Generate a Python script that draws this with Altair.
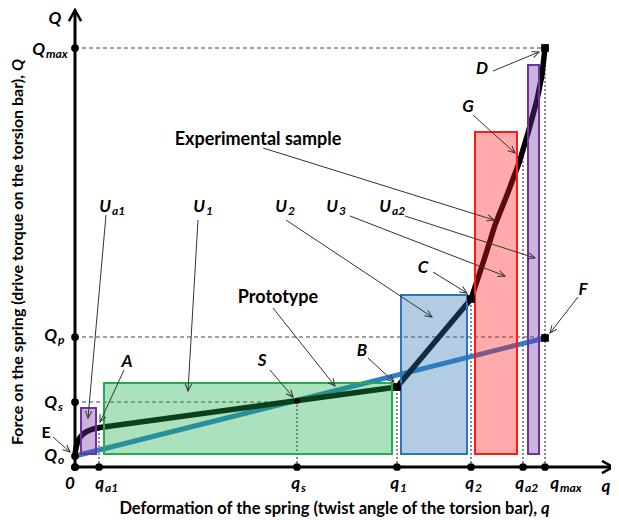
import math
import altair as alt
import pandas as pd

# ---------------- data (diagram units, axes cross at 0,0) ----------------
# experimental sample characteristic (black)
exp_q = [0, 0.5, 1, 2, 3.5, 5, 7.5, 10, 14, 18, 25, 322, 396, 409, 420, 432, 444, 453, 462, 467, 470]
exp_Q = [11, 16, 19, 23, 27, 29.5, 32.5, 34.5, 36.5, 38, 39.5, 80, 168, 207, 242, 272, 304, 334, 367, 392, 419]
# prototype characteristic (blue)
proto_q = [0, 470]
proto_Q = [11, 129]

# energy rectangles
rect_name = ["Ua1", "U1", "U2", "U3", "Ua2"]
rect_q1 = [6, 29, 326, 400, 453]
rect_q2 = [21, 317, 392, 442, 464]
rect_Q1 = [13, 13, 13, 13, 13]
rect_Q2 = [59, 84, 172, 335, 402]
rect_colors = ["#7030a0", "#1fae4b", "#2e75b6", "#ff1a1a", "#7030a0"]

# axis tick dots
q_ticks = [0, 24, 222, 322, 396, 448, 470]
Q_ticks = [0, 11, 65, 130, 419]
q_axis_end = 538
Q_axis_end = 457

# dashed guide lines
hguide_Q = [419, 130, 65]
hguide_end = [470, 470, 222]
vguide_q = [24, 222, 322, 396, 448, 470]
vguide_end = [40, 66, 80, 168, 318, 419]

# characteristic points
pt_q = [322, 396, 470, 470]
pt_Q = [80, 168, 419, 129]
s_q = [222]
s_Q = [66]

# annotation arrows (start -> tip)
arr_q = [-22, 31, 123, 211, 275, 330, 188, 398, 418, 503, 358, 293, 195, 198, 49]
arr_Q = [30, 252, 247, 247, 251, 251, 319, 352, 396, 170, 195, 109, 97, 159, 97]
arr_q2 = [-5, 13, 113, 357, 430, 460, 419, 440, 464, 475, 392, 319, 218, 260, 25]
arr_Q2 = [15, 49, 76, 150, 191, 209, 247, 314, 415, 134, 174, 85, 70, 81, 45]

# labels with subscript
sub_main = ["Q", "Q", "Q", "Q", "q", "q", "q", "q", "q", "q", "U", "U", "U", "U", "U"]
sub_text = ["max", "p", "s", "o", "a1", "s", "1", "2", "a2", "max", "a1", "1", "2", "3", "a2"]
sub_q = [-30, -18, -18, -18, 29, 225, 324, 399, 449, 484, 36, 130, 212, 263, 316]
sub_Q = [417, 131, 64, 11, -17, -17, -17, -17, -17, -17, 260, 260, 260, 260, 260]

# plain italic labels
plain_text = ["Q", "0", "q", "A", "S", "B", "C", "F", "G", "D"]
plain_q = [-20, -5, 531, 52, 187, 287, 348, 508, 393, 407]
plain_Q = [448, -17, -20, 105, 106, 116, 199, 177, 360, 398]

# upright labels
name_text = ["Experimental sample", "Prototype"]
name_q = [183, 203]
name_Q = [327, 169]
e_text = ["E"]
e_q = [-29]
e_Q = [34]

x_title = "Deformation of the spring (twist angle of the torsion bar),"
x_title_sym = "q"
y_title = "Force on the spring (drive torque on the torsion bar),"
y_title_sym = "Q"

# ---------------- chart ----------------
FONT = "Lato"
W, H = 603, 510
xs = alt.Scale(domain=[-67, -67 + W], nice=False, zero=False)
ys = alt.Scale(domain=[459 - H, 459], nice=False, zero=False)


def X(f):
    return alt.X(f, type="quantitative", scale=xs, axis=None)


def Y(f):
    return alt.Y(f, type="quantitative", scale=ys, axis=None)


def ang(dq, dQ):
    a = math.degrees(math.atan2(dq, dQ))
    return a % 360


exp_df = pd.DataFrame({"q": exp_q, "Q": exp_Q, "o": range(len(exp_q))})
proto_df = pd.DataFrame({"q": proto_q, "Q": proto_Q, "o": range(len(proto_q))})
rect_df = pd.DataFrame({"n": rect_name, "q1": rect_q1, "q2": rect_q2, "Q1": rect_Q1, "Q2": rect_Q2})
axes_df = pd.DataFrame({"q": [0, 0], "Q": [0, 0], "q2": [q_axis_end, 0], "Q2": [0, Q_axis_end]})
axhead_df = pd.DataFrame({"q": [q_axis_end, 0], "Q": [0, Q_axis_end], "a": [90, 0]})
tick_df = pd.DataFrame({"q": q_ticks + [0] * len(Q_ticks), "Q": [0] * len(q_ticks) + Q_ticks})
hg_df = pd.DataFrame({"q": [0] * len(hguide_Q), "q2": hguide_end, "Q": hguide_Q})
vg_df = pd.DataFrame({"q": vguide_q, "Q": [0] * len(vguide_q), "Q2": vguide_end})
pt_df = pd.DataFrame({"q": pt_q, "Q": pt_Q})
s_df = pd.DataFrame({"q": s_q, "Q": s_Q})
arr_df = pd.DataFrame({"q": arr_q, "Q": arr_Q, "q2": arr_q2, "Q2": arr_Q2})
arr_df["a"] = [ang(b - a, d - c) for a, b, c, d in zip(arr_q, arr_q2, arr_Q, arr_Q2)]
sub_df = pd.DataFrame({"m": sub_main, "s": sub_text, "q": sub_q, "Q": sub_Q})
plain_df = pd.DataFrame({"t": plain_text, "q": plain_q, "Q": plain_Q})
name_df = pd.DataFrame({"t": name_text, "q": name_q, "Q": name_Q})
e_df = pd.DataFrame({"t": e_text, "q": e_q, "Q": e_Q})
xt_df = pd.DataFrame({"t": [x_title], "q": [462], "Q": [-42]})
xs_df = pd.DataFrame({"t": [x_title_sym], "q": [466], "Q": [-42]})
yt_df = pd.DataFrame({"t": [y_title], "q": [-57], "Q": [392]})
ysym_df = pd.DataFrame({"t": [y_title_sym], "q": [-57], "Q": [396]})

layers = []

# dashed guides
layers.append(alt.Chart(hg_df).mark_rule(color="#444", strokeWidth=1, strokeDash=[4, 3]).encode(
    x=X("q"), x2="q2", y=Y("Q")))
layers.append(alt.Chart(vg_df).mark_rule(color="#444", strokeWidth=1.2, strokeDash=[2, 2]).encode(
    x=X("q"), y=Y("Q"), y2="Q2"))

# characteristics
layers.append(alt.Chart(proto_df).mark_line(color="#2f7fc4", strokeWidth=5).encode(
    x=X("q"), y=Y("Q"), order="o:Q"))
layers.append(alt.Chart(exp_df).mark_line(color="#000000", strokeWidth=5.5, strokeJoin="round").encode(
    x=X("q"), y=Y("Q"), order="o:Q"))

# rectangles (semi-transparent on top)
cscale = alt.Scale(domain=rect_name, range=rect_colors)
layers.append(alt.Chart(rect_df).mark_rect(fillOpacity=0.37, strokeWidth=2).encode(
    x=X("q1"), x2="q2", y=Y("Q1"), y2="Q2",
    fill=alt.Fill("n:N", scale=cscale, legend=None),
    stroke=alt.Stroke("n:N", scale=cscale, legend=None)))

# axes
layers.append(alt.Chart(axes_df).mark_rule(color="black", strokeWidth=3).encode(
    x=X("q"), y=Y("Q"), x2="q2", y2="Q2"))
layers.append(alt.Chart(axhead_df).mark_point(
    shape="M -0.5 0.9 L 0 0 L 0.5 0.9", filled=False, color="black", strokeWidth=2.5,
    size=600, opacity=1).encode(x=X("q"), y=Y("Q"), angle=alt.Angle("a:Q", scale=None)))
layers.append(alt.Chart(tick_df).mark_circle(color="black", size=60, opacity=1).encode(
    x=X("q"), y=Y("Q")))

# points
layers.append(alt.Chart(pt_df).mark_square(color="black", size=60, opacity=1).encode(
    x=X("q"), y=Y("Q")))
layers.append(alt.Chart(s_df).mark_circle(color="black", size=30, opacity=1).encode(
    x=X("q"), y=Y("Q")))

# annotation arrows
layers.append(alt.Chart(arr_df).mark_rule(color="#333", strokeWidth=1).encode(
    x=X("q"), y=Y("Q"), x2="q2", y2="Q2"))
layers.append(alt.Chart(arr_df).mark_point(
    shape="M -0.45 1 L 0 0 L 0.45 1", filled=False, color="#333", strokeWidth=1,
    size=200, opacity=1).encode(x=X("q2"), y=Y("Q2"), angle=alt.Angle("a:Q", scale=None)))

# labels
layers.append(alt.Chart(sub_df).mark_text(font=FONT, fontSize=17, fontWeight="bold", fontStyle="italic",
                                          align="right", baseline="middle", color="black").encode(
    x=X("q"), y=Y("Q"), text="m:N"))
layers.append(alt.Chart(sub_df).mark_text(font=FONT, fontSize=12, fontWeight="bold", fontStyle="italic",
                                          align="left", baseline="middle", dy=4, dx=1, color="black").encode(
    x=X("q"), y=Y("Q"), text="s:N"))
layers.append(alt.Chart(plain_df).mark_text(font=FONT, fontSize=17, fontWeight="bold", fontStyle="italic",
                                            align="center", baseline="middle", color="black").encode(
    x=X("q"), y=Y("Q"), text="t:N"))
layers.append(alt.Chart(name_df).mark_text(font=FONT, fontSize=18, fontWeight="bold",
                                           align="center", baseline="middle", color="black").encode(
    x=X("q"), y=Y("Q"), text="t:N"))
layers.append(alt.Chart(e_df).mark_text(font=FONT, fontSize=16, fontWeight="bold",
                                        align="center", baseline="middle", color="black").encode(
    x=X("q"), y=Y("Q"), text="t:N"))
# axis titles
layers.append(alt.Chart(xt_df).mark_text(font=FONT, fontSize=16.5, fontWeight="bold",
                                         align="right", baseline="middle", color="black").encode(
    x=X("q"), y=Y("Q"), text="t:N"))
layers.append(alt.Chart(xs_df).mark_text(font=FONT, fontSize=16.5, fontWeight="bold", fontStyle="italic",
                                         align="left", baseline="middle", color="black").encode(
    x=X("q"), y=Y("Q"), text="t:N"))
layers.append(alt.Chart(yt_df).mark_text(font=FONT, fontSize=16, fontWeight="bold", angle=270,
                                         align="right", baseline="middle", color="black").encode(
    x=X("q"), y=Y("Q"), text="t:N"))
layers.append(alt.Chart(ysym_df).mark_text(font=FONT, fontSize=16, fontWeight="bold", fontStyle="italic",
                                           angle=270, align="left", baseline="middle", color="black").encode(
    x=X("q"), y=Y("Q"), text="t:N"))

chart = alt.layer(*layers).properties(
    width=W, height=H, padding=0, autosize=alt.AutoSizeParams(type="none")
).configure_view(stroke=None).resolve_scale(fill="independent", stroke="independent")

chart.save("out.html", embed_options={"renderer": "svg", "actions": False})
